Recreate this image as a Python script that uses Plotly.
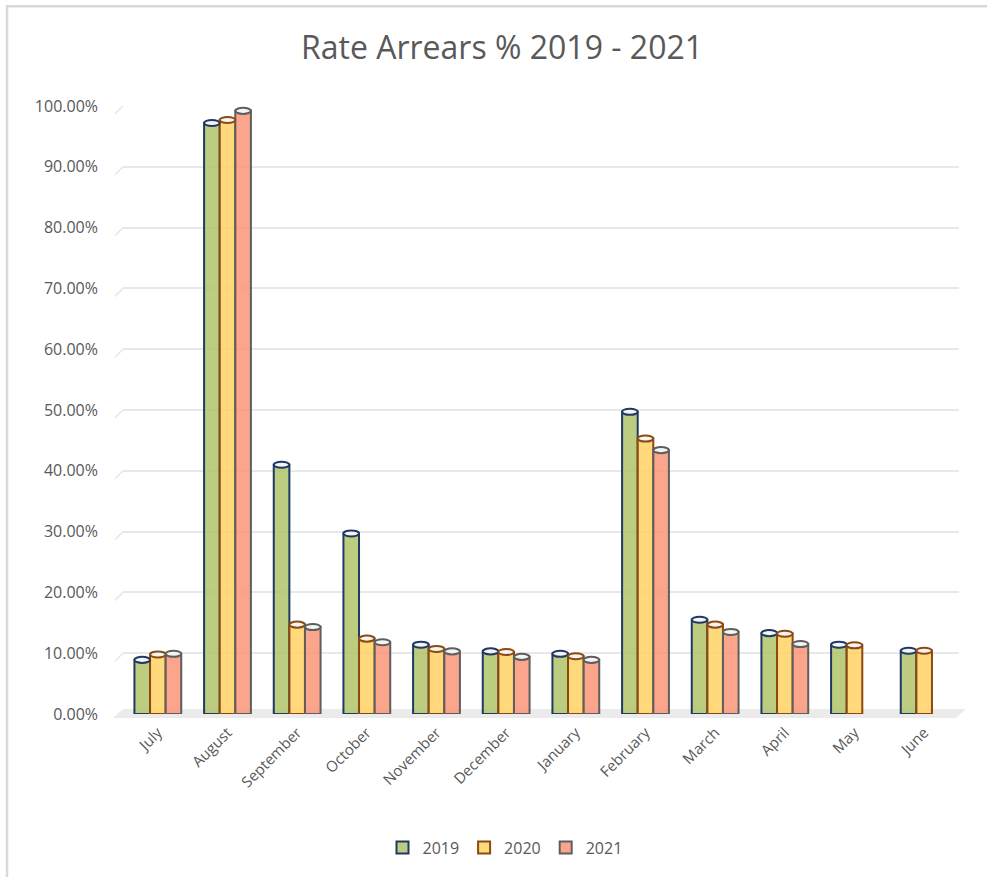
import plotly.graph_objects as go

# Monthly rate arrears, financial year July-June
months = ["July", "August", "September", "October", "November", "December",
          "January", "February", "March", "April", "May", "June"]
arrears_2019 = [0.089, 0.972, 0.410, 0.297, 0.114, 0.103, 0.099, 0.497, 0.155, 0.133, 0.114, 0.104]
arrears_2020 = [0.098, 0.977, 0.147, 0.124, 0.107, 0.102, 0.095, 0.453, 0.147, 0.132, 0.113, 0.104]
arrears_2021 = [0.099, 0.992, 0.143, 0.118, 0.103, 0.094, 0.089, 0.434, 0.135, 0.115, None, None]
series_names = ["2019", "2020", "2021"]
y_ticks = [0.0, 0.1, 0.2, 0.3, 0.4, 0.5, 0.6, 0.7, 0.8, 0.9, 1.0]

fills = ["rgba(176,196,104,0.85)", "rgba(255,210,100,0.85)", "rgba(250,150,120,0.85)"]
edges = ["#203864", "#8c4a12", "#5e5e5e"]

W, H = 987, 877
ML, MR, MT, MB = 123, 28, 106, 161
PW, PH = W - ML - MR, H - MT - MB


def px_x(p):
    return (p - ML) / PW


def px_y(p):
    return 1 - (p - MT) / PH


bar_w = 0.224
offsets = [-bar_w, 0.0, bar_w]

fig = go.Figure()
shapes = []

# light grey frame around the chart
shapes.append(dict(type="rect", xref="paper", yref="paper",
                   x0=px_x(7), x1=px_x(1100), y0=px_y(6), y1=px_y(1000),
                   line=dict(color="#d9d9d9", width=2.5), fillcolor="rgba(0,0,0,0)",
                   layer="below"))

# 3D floor band
shapes.append(dict(type="path", xref="paper", yref="paper",
                   path=f"M {px_x(123)},{px_y(711)} L {px_x(966)},{px_y(711)} "
                        f"L {px_x(956)},{px_y(720)} L {px_x(113)},{px_y(720)} Z",
                   line=dict(width=0), fillcolor="#ebebeb", layer="below"))

# slanted lead-ins of the back-wall gridlines
for t in y_ticks[1:]:
    shapes.append(dict(type="line", xref="paper", yref="paper",
                       x0=px_x(115), y0=t - 8 / PH, x1=px_x(123), y1=t,
                       line=dict(color="#e6e6e6", width=1.5), layer="below"))

for k, (name, vals) in enumerate(zip(series_names, [arrears_2019, arrears_2020, arrears_2021])):
    xs = [i + offsets[k] for i in range(len(months))]
    fig.add_trace(go.Bar(
        x=xs, y=vals, name=name, width=bar_w,
        marker=dict(color=fills[k], line=dict(color=edges[k], width=2)),
    ))
    # elliptical cylinder caps at the top of each bar
    for x, v in zip(xs, vals):
        if v is None:
            continue
        shapes.append(dict(type="circle", xref="x", yref="y",
                           x0=x - bar_w / 2, x1=x + bar_w / 2,
                           y0=v - 0.005, y1=v + 0.005,
                           fillcolor="#f4f4f4", line=dict(color=edges[k], width=2),
                           layer="above"))

font_family = "'Open Sans', Lato, sans-serif"
fig.update_layout(
    width=W, height=H,
    margin=dict(l=ML, r=MR, t=MT, b=MB),
    paper_bgcolor="white", plot_bgcolor="white",
    barmode="overlay",
    title=dict(text="Rate Arrears % 2019 - 2021", xref="container", x=502 / W,
               xanchor="center", yref="container", y=1 - 48 / H, yanchor="middle",
               font=dict(family=font_family, size=32, color="#595959")),
    xaxis=dict(range=[-0.5, 11.5], tickmode="array",
               tickvals=list(range(len(months))), ticktext=months,
               tickangle=-45, showgrid=False, zeroline=False, showline=False,
               ticks="", ticklabelstandoff=6,
               tickfont=dict(family=font_family, size=15, color="#595959")),
    yaxis=dict(range=[0, 1.0], tickmode="array", tickvals=y_ticks,
               tickformat=".2%", showgrid=True, gridcolor="#e8e8e8", gridwidth=1.5,
               zeroline=False, showline=False, ticks="", ticklabelstandoff=24,
               tickfont=dict(family=font_family, size=16, color="#595959")),
    legend=dict(orientation="h", x=px_x(505), xanchor="center",
                y=px_y(850), yanchor="middle",
                font=dict(family=font_family, size=16, color="#595959"),
                itemwidth=30, tracegroupgap=0),
    shapes=shapes,
    showlegend=True,
)

fig.write_html("out.html")
